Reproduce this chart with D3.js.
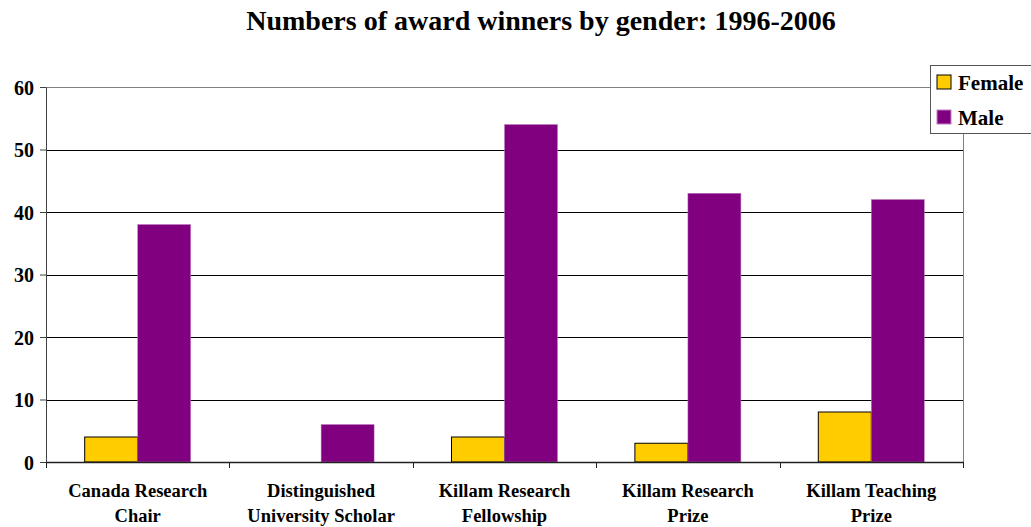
<!DOCTYPE html>
<html>
  <head>
    <meta charset="utf-8">
    <title>Numbers of award winners by gender</title>
    <script src="https://d3js.org/d3.v7.min.js"></script>
    <style>
      body { margin: 0; background: white; }
      svg text { font-family: "Liberation Serif", "Times New Roman", serif; font-weight: bold; fill: #000; }
    </style>
  </head>
  <body>
    <svg id="chart" width="1031" height="527"></svg>
    <script>
      // chart data
      var categories = [["Canada Research", "Chair"], ["Distinguished", "University Scholar"], ["Killam Research", "Fellowship"], ["Killam Research", "Prize"], ["Killam Teaching", "Prize"]];
      var series = ["Female", "Male"];
      var female = [4, 0, 4, 3, 8];
      var male = [38, 6, 54, 43, 42];
      var yTicks = [0, 10, 20, 30, 40, 50, 60];
      var colours = { Female: "#ffcc00", Male: "#800080" };

      var svg = d3.select("#chart");
      var margin = { left: 46, right: 68, top: 87, bottom: 65 };
      var width = 1031, height = 527;

      // scales
      var x0 = d3.scaleBand()
        .domain(d3.range(categories.length))
        .range([margin.left, width - margin.right])
        .padding(0);
      var x1 = d3.scaleBand()
        .domain(series)
        .range([0, x0.bandwidth()])
        .paddingInner(0)
        .paddingOuter(0.73);
      var y = d3.scaleLinear()
        .domain([0, 60])
        .range([height - margin.bottom, margin.top]);

      // title
      svg.append("text")
        .attr("x", 541)
        .attr("y", 30)
        .attr("text-anchor", "middle")
        .style("font-size", "28px")
        .text("Numbers of award winners by gender: 1996-2006");

      // gridlines
      svg.append("g")
        .selectAll("line")
          .data(yTicks.filter(function(d) { return d > 0; }))
        .enter().append("line")
          .attr("x1", margin.left)
          .attr("x2", width - margin.right)
          .attr("y1", function(d) { return Math.round(y(d)) + 0.5; })
          .attr("y2", function(d) { return Math.round(y(d)) + 0.5; })
          .attr("stroke", function(d) { return d === 60 ? "#808080" : "#000"; })
          .attr("stroke-width", 1);
      // right border
      svg.append("line")
        .attr("x1", width - margin.right + 0.5)
        .attr("x2", width - margin.right + 0.5)
        .attr("y1", y(60))
        .attr("y2", y(0))
        .attr("stroke", "#808080");

      // bars
      var rows = categories.map(function(c, i) { return { i: i, Female: female[i], Male: male[i] }; });
      var groups = svg.append("g")
        .selectAll("g")
          .data(rows)
        .enter().append("g")
          .attr("transform", function(d) { return "translate(" + x0(d.i) + ",0)"; });
      groups.selectAll("rect")
          .data(function(d) { return series.map(function(s) { return { key: s, value: d[s] }; }); })
        .enter().append("rect")
          .filter(function(d) { return d.value > 0; })
          .attr("x", function(d) { return x1(d.key); })
          .attr("width", x1.bandwidth())
          .attr("y", function(d) { return y(d.value); })
          .attr("height", function(d) { return y(0) - y(d.value); })
          .attr("fill", function(d) { return colours[d.key]; })
          .attr("stroke", function(d) { return d.key === "Female" ? "#000" : "#c080c0"; })
          .attr("stroke-width", function(d) { return d.key === "Female" ? 1 : 0.5; });

      // y axis
      var yAxis = d3.axisLeft(y)
        .tickValues(yTicks)
        .tickSize(6)
        .tickSizeOuter(0);
      var yg = svg.append("g")
        .attr("transform", "translate(" + margin.left + ",0)")
        .call(yAxis);
      yg.attr("font-family", null).attr("font-size", null);
      yg.select(".domain").attr("stroke", "#404040");
      yg.selectAll(".tick line").attr("stroke", "#404040");
      yg.selectAll(".tick text")
        .attr("x", -12)
        .attr("dy", "0.35em")
        .style("font-size", "20px");

      // x axis
      var xAxis = d3.axisBottom(x0)
        .tickValues([])
        .tickSizeOuter(0);
      var xg = svg.append("g")
        .attr("transform", "translate(0," + y(0) + ")")
        .call(xAxis);
      xg.attr("font-family", null).attr("font-size", null);
      xg.select(".domain").attr("stroke", "#202020").attr("stroke-width", 1.5);
      xg.selectAll(".sep")
          .data(d3.range(categories.length + 1))
        .enter().append("line")
          .attr("class", "sep")
          .attr("x1", function(d) { return Math.round(margin.left + d * x0.step()) + 0.5; })
          .attr("x2", function(d) { return Math.round(margin.left + d * x0.step()) + 0.5; })
          .attr("y1", 0)
          .attr("y2", 6)
          .attr("stroke", "#202020");
      var labels = xg.selectAll(".lbl")
          .data(categories)
        .enter().append("text")
          .attr("class", "lbl")
          .attr("text-anchor", "middle")
          .attr("transform", function(d, i) { return "translate(" + (x0(i) + x0.bandwidth() / 2) + ",0)"; })
          .style("font-size", "18.5px");
      labels.selectAll("tspan")
          .data(function(d) { return d; })
        .enter().append("tspan")
          .attr("x", 0)
          .attr("y", function(d, i) { return 35 + i * 25; })
          .text(function(d) { return d; });

      // legend
      var legend = svg.append("g").attr("transform", "translate(930,65)");
      legend.append("rect")
        .attr("x", 0.5)
        .attr("y", 0.5)
        .attr("width", 110)
        .attr("height", 68)
        .attr("fill", "white")
        .attr("stroke", "#555");
      var items = legend.selectAll(".item")
          .data(series)
        .enter().append("g")
          .attr("class", "item")
          .attr("transform", function(d, i) { return "translate(7," + (10 + i * 35) + ")"; });
      items.append("rect")
        .attr("width", 14)
        .attr("height", 14)
        .attr("fill", function(d) { return colours[d]; })
        .attr("stroke", function(d) { return d === "Female" ? "#000" : "#c080c0"; });
      items.append("text")
        .attr("x", 21)
        .attr("y", 15)
        .style("font-size", "21px")
        .text(function(d) { return d; });
    </script>
  </body>
</html>
